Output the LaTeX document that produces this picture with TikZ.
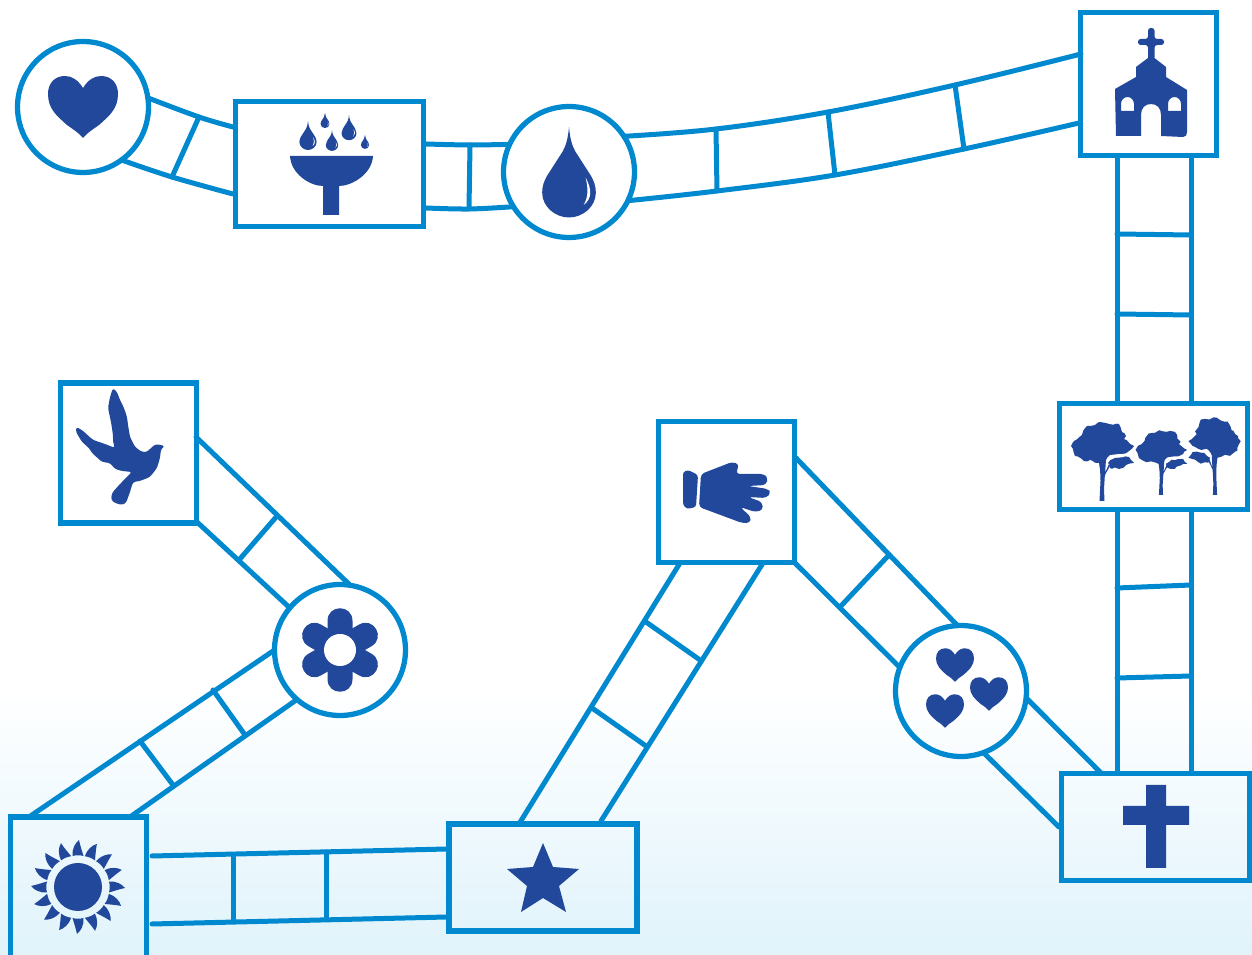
\documentclass[tikz,border=0pt]{standalone}
\usetikzlibrary{decorations.pathmorphing}
\definecolor{trackblue}{HTML}{0089CF}
\definecolor{iconblue}{HTML}{21489A}
\definecolor{skywash}{HTML}{E0F3FB}
\tikzset{
    track/.style={draw=trackblue, line width=0.1cm, line cap=round},
    boxstation/.style n args={2}{draw=trackblue, line width=0.11cm, inner sep=0pt, outer sep=0pt, minimum width=#1*0.02cm, minimum height=#2*0.02cm},
    roundstation/.style={circle, draw=trackblue, line width=0.105cm, inner sep=0pt, outer sep=0pt, minimum size=2.62cm},
    icon/.style={fill=iconblue, draw=none},
    jagged/.style={decorate, decoration={random steps, segment length=2pt, amplitude=0.6pt}}
}
% heart centred on its own middle
\newcommand{\heartshape}[3]{
    \fill[icon, shift={(#1,#2)}, scale=#3] (0,-19) .. controls (-5,-27) and (-11,-31) .. (-18,-31) .. controls (-29,-31) and (-35,-23) .. (-35,-13) .. controls (-35,2) and (-26,9) .. (-16,18) .. controls (-9,23) and (-4,26) .. (0,31) .. controls (4,26) and (9,23) .. (16,18) .. controls (26,9) and (35,2) .. (35,-13) .. controls (35,-23) and (29,-31) .. (18,-31) .. controls (11,-31) and (5,-27) .. (0,-19) -- cycle;
}
% drop hanging from its tip
\newcommand{\waterdrop}[3]{
    \begin{scope}[shift={(#1,#2)}, scale=#3]
        \fill[icon] (0,0) .. controls (0.3,3.5) and (0.9,5.8) .. (2,7.8) -- (7,15.6) .. controls (8,17.3) and (8.6,19) .. (8.6,21) .. controls (8.6,25.5) and (4.5,29) .. (0,29) .. controls (-4.5,29) and (-8.6,25.5) .. (-8.6,21) .. controls (-8.6,19) and (-8,17.3) .. (-7,15.6) -- (-2,7.8) .. controls (-0.9,5.8) and (-0.3,3.5) .. (0,0) -- cycle;
        \fill[white] (5.3,16.2) .. controls (7.4,20) and (7.4,23) .. (4.7,25) .. controls (6.2,22.5) and (6.2,19.5) .. (5.3,16.2) -- cycle;
    \end{scope}
}
% tree standing on the foot of its trunk
\newcommand{\treeicon}[4]{
    \begin{scope}[shift={(#1,#2)}, xscale=#3, yscale=#4]
        \fill[icon, jagged] (-31,-55) -- (-28,-60) -- (-20,-66) -- (-15,-75) -- (-7,-76) -- (-2,-79) -- (7,-77) -- (17,-77) -- (20,-69) -- (24,-65) -- (22,-62) -- (28,-57) -- (32,-55) -- (27,-50) -- (20,-47) -- (8,-46) -- (3,-39) -- (-3,-38) -- (-12,-41) -- (-18,-40) -- (-27,-45) -- (-29,-52) -- cycle;
        \fill[icon] (-2.5,0) -- (2.5,0) -- (2,-12) -- (3,-28) -- (7,-37) -- (8,-35) -- (3.5,-27) -- (3,-26) -- (4,-42) -- (-4,-42) .. controls (-2,-35) and (-1.5,-28) .. (-1.5,-20) -- cycle;
        \fill[icon, jagged] (6,-38) -- (13,-43) -- (27,-44) -- (32,-38) -- (24,-36) -- (17,-32) -- (8,-33) -- cycle;
    \end{scope}
}
\begin{document}
\begin{tikzpicture}[x=0.02cm, y=-0.02cm]
    \useasboundingbox (0,0) rectangle (1252,955);
    \clip (0,0) rectangle (1252,955);
    % fond
    \shade[top color=white, bottom color=skywash] (0,690) rectangle (1252,955);

    % Stations
    \node[roundstation] (heart) at (83,107) {};
    \node[boxstation={188}{125}] (font) at (329.5,164) {};
    \node[roundstation] (drop) at (569,172) {};
    \node[boxstation={136}{143}] (church) at (1148.5,84) {};
    \node[boxstation={188}{106}] (trees) at (1153.5,456.5) {};
    \node[boxstation={188}{107}] (cross) at (1155.5,827) {};
    \node[roundstation] (hearts) at (961,691) {};
    \node[boxstation={136}{141}] (hand) at (726.5,492) {};
    \node[boxstation={188}{107}] (star) at (543,877.5) {};
    \node[boxstation={136}{144}] (sun) at (78.5,889) {};
    \node[roundstation] (flower) at (340,650) {};
    \node[boxstation={136}{140}] (dove) at (128.5,453) {};

    % Rails : coeur - fontaine
    \coordinate (a1) at (199,117);
    \coordinate (a2) at (172,177);
    \coordinate (fontA) at (233,127);
    \coordinate (fontB) at (233,194);
    \draw[track] plot[smooth, tension=0.6] coordinates {(heart.8) (a1) (fontA)};
    \draw[track] plot[smooth, tension=0.6] coordinates {(heart.-54) (a2) (fontB)};
    \draw[track] (a1) -- (a2);

    % Rails : fontaine - goutte
    \coordinate (b1) at (470,145);
    \coordinate (b2) at (469,209);
    \coordinate (fontC) at (426,144);
    \coordinate (fontD) at (426,208);
    \draw[track] plot[smooth, tension=0.6] coordinates {(fontC) (b1) (drop.155)};
    \draw[track] plot[smooth, tension=0.6] coordinates {(fontD) (b2) (drop.212)};
    \draw[track] (b1) -- (b2);

    % Rails : goutte - eglise
    \coordinate (c1) at (716,129);
    \coordinate (c2) at (717,191);
    \coordinate (c3) at (828,112);
    \coordinate (c4) at (835,175);
    \coordinate (c5) at (955,85);
    \coordinate (c6) at (964,149);
    \coordinate (churchA) at (1081,54);
    \coordinate (churchB) at (1079,123);
    \draw[track] plot[smooth, tension=0.6] coordinates {(drop.33) (c1) (c3) (c5) (churchA)};
    \draw[track] plot[smooth, tension=0.6] coordinates {(drop.-26) (c2) (c4) (c6) (churchB)};
    \foreach \p/\q in {c1/c2,c3/c4,c5/c6} \draw[track] (\p) -- (\q);

    % Rails : eglise - arbres - croix
    \coordinate (d1) at (1117,156);
    \coordinate (d2) at (1191,156);
    \coordinate (d3) at (1117,403);
    \coordinate (d4) at (1191,403);
    \coordinate (d5) at (1117,234);
    \coordinate (d6) at (1191,235);
    \coordinate (d7) at (1117,314);
    \coordinate (d8) at (1191,315);
    \coordinate (e1) at (1117,510);
    \coordinate (e2) at (1191,510);
    \coordinate (e3) at (1117,773);
    \coordinate (e4) at (1191,773);
    \coordinate (e5) at (1117,588);
    \coordinate (e6) at (1191,585);
    \coordinate (e7) at (1117,678);
    \coordinate (e8) at (1191,676);
    \foreach \p/\q in {d1/d3,d2/d4,d5/d6,d7/d8,e1/e3,e2/e4,e5/e6,e7/e8} \draw[track] (\p) -- (\q);

    % Rails : croix - coeurs
    \coordinate (crossA) at (1101,773);
    \coordinate (crossB) at (1059,827);
    \draw[track] (hearts.-6) -- (crossA);
    \draw[track] (hearts.-70) -- (crossB);

    % Rails : coeurs - main
    \coordinate (handA) at (796,458);
    \coordinate (handB) at (795,563);
    \coordinate (f1) at (888,556);
    \coordinate (f2) at (840,607);
    \draw[track] (hearts.93) -- (handA);
    \draw[track] (hearts.159) -- (handB);
    \draw[track] (f1) -- (f2);

    % Rails : main - etoile
    \coordinate (handC) at (680,563);
    \coordinate (handD) at (763,563);
    \coordinate (starA) at (519,824);
    \coordinate (starB) at (601,821);
    \coordinate (g1) at (646,622);
    \coordinate (g2) at (700,660);
    \coordinate (g3) at (592,708);
    \coordinate (g4) at (646,746);
    \foreach \p/\q in {handC/starA,handD/starB,g1/g2,g3/g4} \draw[track] (\p) -- (\q);

    % Rails : etoile - soleil
    \coordinate (starC) at (447,849);
    \coordinate (starD) at (447,917);
    \coordinate (sunA) at (152,856);
    \coordinate (sunB) at (152,924);
    \coordinate (h1) at (326,852);
    \coordinate (h2) at (326,918);
    \coordinate (h3) at (233,856);
    \coordinate (h4) at (233,919);
    \foreach \p/\q in {starC/sunA,starD/sunB,h1/h2,h3/h4} \draw[track] (\p) -- (\q);

    % Rails : soleil - fleur
    \coordinate (sunC) at (29,817);
    \coordinate (sunD) at (130,817);
    \coordinate (i1) at (140,741);
    \coordinate (i2) at (173,785);
    \coordinate (i3) at (213,690);
    \coordinate (i4) at (245,735);
    \draw[track] (sunC) -- (flower.180);
    \draw[track] (sunD) -- (flower.229);
    \foreach \p/\q in {i1/i2,i3/i4} \draw[track] (\p) -- (\q);

    % Rails : fleur - colombe
    \coordinate (doveA) at (196,437);
    \coordinate (doveB) at (197,522);
    \coordinate (j1) at (277,516);
    \coordinate (j2) at (239,560);
    \draw[track] (flower.81) -- (doveA);
    \draw[track] (flower.140) -- (doveB);
    \draw[track] (j1) -- (j2);

    % Icones
    \heartshape{83}{107}{1}
    \heartshape{955}{665}{0.54}
    \heartshape{989}{694}{0.54}
    \heartshape{945}{711}{0.54}

    % fontaine
    \fill[icon] (290,156) -- (373,156) .. controls (372,174) and (352,186) .. (339,186) -- (339,215) -- (323,215) -- (323,186) .. controls (310,186) and (291,174) .. (290,156) -- cycle;
    \waterdrop{308}{121}{1}
    \waterdrop{325}{113}{0.52}
    \waterdrop{349}{115}{0.87}
    \waterdrop{332}{130}{0.72}
    \waterdrop{365}{135}{0.48}

    % goutte
    \waterdrop{569}{127}{3.12}

    % eglise
    \fill[icon, rounded corners=1.5pt] (1148,45) -- (1138,45) -- (1138,39) -- (1148,39) -- (1148,28) -- (1154.5,28) -- (1154.5,39) -- (1164,39) -- (1164,45) -- (1154.5,45) -- (1154.5,60) -- (1148,60) -- cycle;
    \fill[icon, even odd rule] (1115,89) -- (1136,77) -- (1136,67) -- (1148,58) -- (1154.5,58) -- (1166,67) -- (1166,77) -- (1187,90) -- (1187,132) .. controls (1187,135) and (1186,137) .. (1183,137) -- (1161,136) -- (1161,115) .. controls (1161,108) and (1157,104) .. (1151,104) .. controls (1145,104) and (1141,108) .. (1141,115) -- (1141,136) -- (1116,136) -- cycle
        (1121,111) -- (1121,104) .. controls (1121,100) and (1124,97) .. (1127.5,97) .. controls (1131,97) and (1134,100) .. (1134,104) -- (1134,111) -- cycle
        (1168,111) -- (1168,104) .. controls (1168,100) and (1171,97) .. (1174.5,97) .. controls (1178,97) and (1181,100) .. (1181,104) -- (1181,111) -- cycle;

    % arbres
    \pgfmathsetseed{7}
    \treeicon{1102}{501}{1}{1}
    \treeicon{1161}{495}{0.82}{0.82}
    \treeicon{1215}{495}{-0.83}{0.98}

    % croix
    \fill[icon] (1146,785) -- (1166,785) -- (1166,806) -- (1189,806) -- (1189,825) -- (1166,825) -- (1166,868) -- (1146,868) -- (1146,825) -- (1123,825) -- (1123,806) -- (1146,806) -- cycle;

    % main
    \fill[icon, rounded corners=1.5pt] (683,472) -- (688,470) -- (698,475) -- (696,507) -- (687,509) -- (683,505) -- cycle;
    \fill[icon, rounded corners=2pt] (701,474) -- (732,462) -- (739,464) -- (736,474) -- (764,474) -- (768,478) -- (766,485) -- (748,486) -- (768,489) -- (771,493) -- (766,498) -- (748,497) -- (762,502) -- (763,510) -- (755,512) -- (740,507) -- (751,517) -- (750,523) -- (742,523) -- (699,507) -- cycle;

    % etoile
    \fill[icon] (543,843) -- (553,867) -- (579,869) -- (559,886) -- (566,912) -- (543,898) -- (521,912) -- (527,886) -- (507,869) -- (533,867) -- cycle;

    % soleil
    \fill[icon] (78,887) circle (24);
    \foreach \a in {0,22.5,...,337.5}
        \fill[icon, shift={(78,887)}, rotate=\a] (31,-5.5) .. controls (38,-6) and (44,-3) .. (47,1) .. controls (42,2) and (36,4) .. (31,5.5) .. controls (32,2) and (32,-2) .. (31,-5.5) -- cycle;

    % fleur
    \foreach \a in {30,90,...,330}
        \fill[icon, shift={(340,650)}, rotate=\a] (10,-12.5) -- (29,-12.5) .. controls (46,-12.5) and (46,12.5) .. (29,12.5) -- (10,12.5) -- cycle;
    \fill[white] (340,650) circle (16);

    % colombe
    \fill[icon, rounded corners=1.5pt] (113,388) -- (117,392) -- (120,400) -- (124,408) -- (127,417) -- (128,425) -- (130,437) -- (135,447) -- (142,452) -- (147,452) -- (152,447) -- (156,444) -- (165,446) -- (161,449) -- (160,458) -- (157,468) -- (150,477) -- (140,481) -- (133,482) -- (130,492) -- (126,503) -- (122,505) -- (115,503) -- (111,500) -- (112,493) -- (120,484) -- (132,472) -- (122,471) -- (115,469) -- (110,463) -- (102,462) -- (92,453) -- (89,448) -- (82,442) -- (76,432) -- (76,427) -- (82,430) -- (93,440) -- (105,444) -- (115,448) -- (113,442) -- (113,435) -- (111,422) -- (108,408) -- (110,397) -- cycle;
\end{tikzpicture}
\end{document}
